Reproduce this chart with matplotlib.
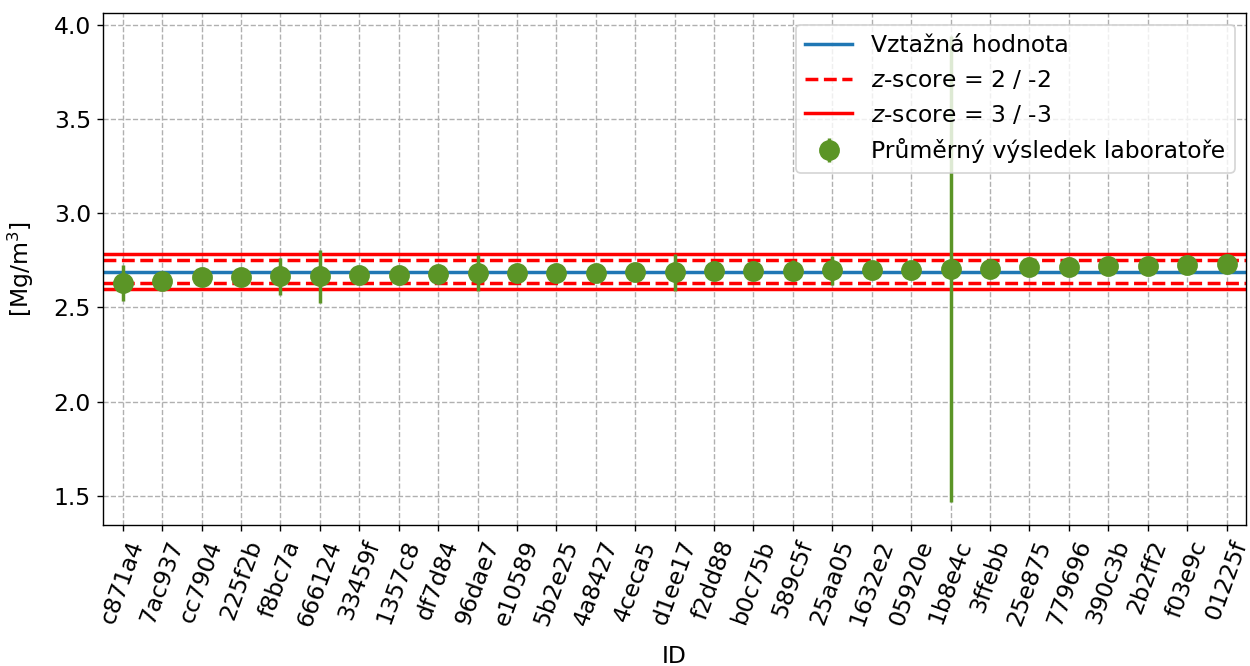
import matplotlib
matplotlib.use("Agg")
import matplotlib.pyplot as plt
import numpy as np

# lab IDs
ids = ["c871a4", "7ac937", "cc7904", "225f2b", "f8bc7a", "666124", "33459f",
       "1357c8", "df7d84", "96dae7", "e10589", "5b2e25", "4a8427", "4ceca5",
       "d1ee17", "f2dd88", "b0c75b", "589c5f", "25aa05", "1632e2", "05920e",
       "1b8e4c", "3ffebb", "25e875", "779696", "390c3b", "2b2ff2", "f03e9c",
       "01225f"]

# mean result of each lab
means = [2.630, 2.639, 2.660, 2.660, 2.665, 2.665, 2.674, 2.674, 2.678, 2.683,
         2.683, 2.683, 2.683, 2.687, 2.687, 2.692, 2.696, 2.696, 2.697, 2.700,
         2.700, 2.704, 2.706, 2.713, 2.715, 2.722, 2.722, 2.727, 2.731]

# uncertainty of each lab
errs = [0.097, 0.010, 0.010, 0.010, 0.097, 0.140, 0.010, 0.010, 0.010, 0.097,
        0.010, 0.010, 0.010, 0.010, 0.098, 0.010, 0.010, 0.057, 0.077, 0.010,
        0.010, 1.234, 0.010, 0.010, 0.010, 0.010, 0.010, 0.010, 0.010]

ref_value = 2.690
sigma = 0.031

plt.rcParams['font.size'] = 13.5

fig, ax = plt.subplots(figsize=(10, 5.328), dpi=125)
fig.subplots_adjust(left=0.0824, right=0.997, top=0.9805, bottom=0.2117)

x = np.arange(len(ids))

ax.axhline(ref_value, color='#1f77b4', lw=2, label='Vztažná hodnota', zorder=2)
ax.axhline(ref_value + 2 * sigma, color='red', ls='--', lw=2,
           label='$z$-score = 2 / -2', zorder=2)
ax.axhline(ref_value - 2 * sigma, color='red', ls='--', lw=2, zorder=2)
ax.axhline(ref_value + 3 * sigma, color='red', lw=2,
           label='$z$-score = 3 / -3', zorder=2)
ax.axhline(ref_value - 3 * sigma, color='red', lw=2, zorder=2)

ax.errorbar(x, means, yerr=errs, fmt='o', color='#5b9526', ms=11,
            elinewidth=2, label='Průměrný výsledek laboratoře', zorder=3)

ax.set_xticks(x)
ax.set_xticklabels(ids, rotation=70)
ax.set_xlim(-0.5, len(ids) - 0.5)
ax.set_xlabel('ID', labelpad=9)
ax.set_ylabel('[Mg/m$^3$]', labelpad=10)
ax.grid(ls='--', color='#b0b0b0', lw=0.8)

leg = ax.legend(loc='upper right')
leg.set_zorder(10)

fig.savefig('out.png')
